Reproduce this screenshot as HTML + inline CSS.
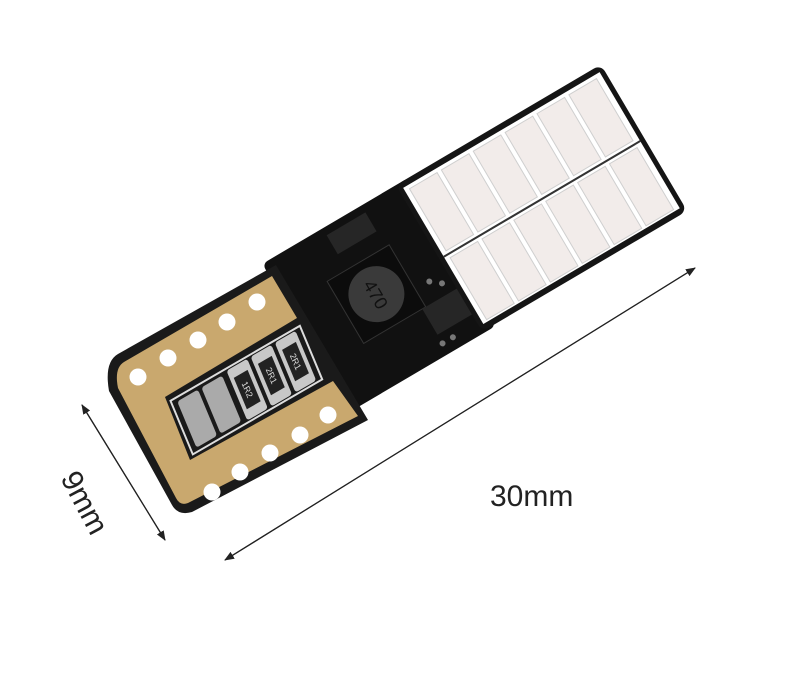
<!DOCTYPE html>
<html><head><meta charset="utf-8"><style>
html,body{margin:0;padding:0;background:#fff;width:803px;height:679px;overflow:hidden}
svg{display:block}
</style></head><body>
<svg width="803" height="679" viewBox="0 0 803 679" xmlns="http://www.w3.org/2000/svg">
<defs>
<marker id="ar" markerWidth="10" markerHeight="8" refX="9" refY="4" orient="auto" markerUnits="userSpaceOnUse">
<path d="M0,0 L10,4 L0,8 Z" fill="#222"/></marker>
</defs>
<g transform="translate(113,375) rotate(-30.5)">
  <rect x="0" y="-8" width="200" height="160" rx="12" fill="#1a1a1a"/>
  <rect x="185" y="-20" width="170" height="172" rx="6" fill="#111"/>
  <rect x="340" y="-20" width="238" height="170" rx="8" fill="#151515"/>
  <rect x="232" y="28" width="72" height="72" fill="#0c0c0c" stroke="#333"/>
  <circle cx="268" cy="64" r="28" fill="#3a3a3a"/>
  <text x="268" y="71" font-family="Liberation Sans, sans-serif" font-size="18" fill="#111" text-anchor="middle" transform="rotate(90 268 64)">470</text>
  <rect x="255" y="-12" width="45" height="22" fill="#262626"/>
  <rect x="300" y="100" width="40" height="30" fill="#262626"/>
  <g fill="#777"><circle cx="320" cy="80" r="3"/><circle cx="330" cy="88" r="3"/><circle cx="312" cy="140" r="3"/><circle cx="300" cy="140" r="3"/></g>
  <rect x="345" y="-14" width="228" height="158" fill="#fff"/>
  <g fill="#f2ecea" stroke="#cfcfcf" stroke-width="1">
    <rect x="350" y="-10" width="32" height="72"/><rect x="387" y="-10" width="32" height="72"/><rect x="424" y="-10" width="32" height="72"/>
    <rect x="461" y="-10" width="32" height="72"/><rect x="498" y="-10" width="32" height="72"/><rect x="535" y="-10" width="32" height="72"/>
    <rect x="350" y="70" width="32" height="72"/><rect x="387" y="70" width="32" height="72"/><rect x="424" y="70" width="32" height="72"/>
    <rect x="461" y="70" width="32" height="72"/><rect x="498" y="70" width="32" height="72"/><rect x="535" y="70" width="32" height="72"/>
  </g>
  <line x1="345" y1="66" x2="573" y2="66" stroke="#333" stroke-width="2"/>
</g>
<path d="M118,354 L276,265 L368,420 L192,512 Q178,516 172,505 L109,391 Q104,362 118,354 Z" fill="#1a1a1a"/>
<path d="M124,362 L272,276 L297,318 L165,397 L190,460 L333,381 L358,416 L188,503 Q180,506 176,498 L118,388 Q114,368 124,362 Z" fill="#c9a86e"/>
<g fill="#fff">
  <circle cx="138" cy="377" r="8.5"/><circle cx="168" cy="358" r="8.5"/><circle cx="198" cy="340" r="8.5"/><circle cx="227" cy="322" r="8.5"/><circle cx="257" cy="302" r="8.5"/>
  <circle cx="212" cy="492" r="8.5"/><circle cx="240" cy="472" r="8.5"/><circle cx="270" cy="453" r="8.5"/><circle cx="300" cy="435" r="8.5"/><circle cx="328" cy="415" r="8.5"/>
</g>
<g transform="matrix(0.8625,-0.5,0.385,0.923,168,400)">
  <rect x="2" y="2" width="150" height="58" fill="none" stroke="#ddd" stroke-width="2"/>
  <g fill="#aaa"><rect x="8" y="6" width="24" height="50" rx="3"/><rect x="36" y="6" width="24" height="50" rx="3"/></g>
  <g fill="#c8c8c8"><rect x="66" y="4" width="24" height="54" rx="3"/><rect x="94" y="4" width="24" height="54" rx="3"/><rect x="122" y="4" width="24" height="54" rx="3"/></g>
  <g fill="#222"><rect x="70" y="14" width="16" height="34"/><rect x="98" y="14" width="16" height="34"/><rect x="126" y="14" width="16" height="34"/></g>
  <g font-family="Liberation Sans, sans-serif" font-size="9" fill="#ddd" text-anchor="middle">
    <text x="78" y="34" transform="rotate(90 78 31)">1R2</text>
    <text x="106" y="34" transform="rotate(90 106 31)">2R1</text>
    <text x="134" y="34" transform="rotate(90 134 31)">2R1</text>
  </g>
</g>
<line x1="165" y1="540" x2="82" y2="405" stroke="#222" stroke-width="1.2" marker-end="url(#ar)"/>
<line x1="82" y1="405" x2="165" y2="540" stroke="#222" stroke-width="1.2" marker-end="url(#ar)"/>
<line x1="225" y1="560" x2="695" y2="268" stroke="#222" stroke-width="1.2" marker-end="url(#ar)"/>
<line x1="695" y1="268" x2="225" y2="560" stroke="#222" stroke-width="1.2" marker-end="url(#ar)"/>
<text x="490" y="506" font-family="Liberation Sans, sans-serif" font-size="30" fill="#222">30mm</text>
<text x="0" y="0" font-family="Liberation Sans, sans-serif" font-size="30" fill="#222" transform="translate(60,478) rotate(62)">9mm</text>
</svg>
</body></html>
